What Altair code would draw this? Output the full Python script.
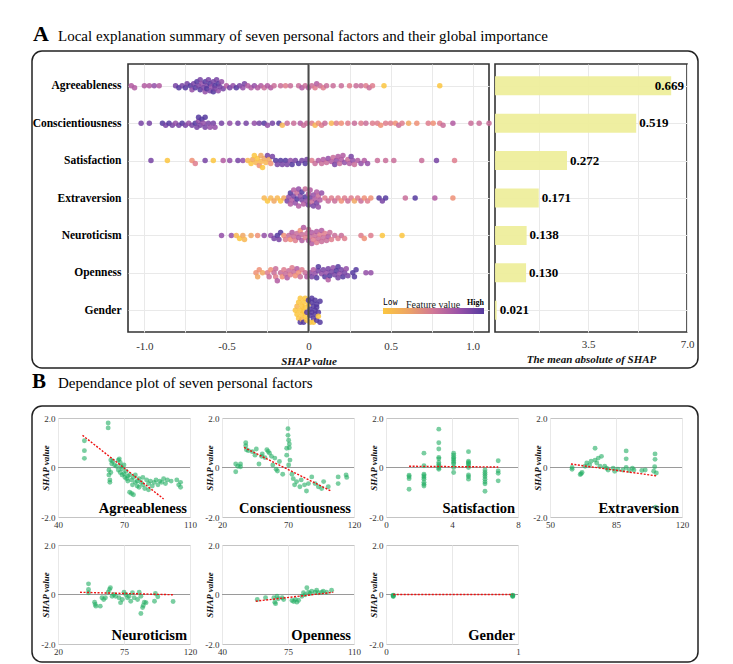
import altair as alt
import pandas as pd

FONT = "Liberation Serif"

# ---------------- data ----------------
features = ["Agreeableness", "Conscientiousness", "Satisfaction", "Extraversion",
            "Neuroticism", "Openness", "Gender"]
mean_abs_labels = ["0.669", "0.519", "0.272", "0.171", "0.138", "0.130", "0.021"]
bar_lengths = [6.44, 5.20, 2.75, 1.75, 1.32, 1.30, 0.26]

bee_ticks = [-1.0, -0.75, -0.5, -0.25, 0.0, 0.25, 0.5, 0.75, 1.0]
bar_ticks = [1.75, 3.5, 5.25, 7.0]
palette = ["#fbc640", "#eda464", "#d07797", "#9a52a8", "#553a9f"]

# (SHAP value, feature-value level 0=low .. 9=high)
agr = [(-1.08,6),(-1.06,6),(-1.00,6),(-0.97,6),(-0.94,7),(-0.91,6),
       (-0.81,8),(-0.79,9),(-0.77,8),(-0.75,9),(-0.74,8),(-0.72,9),(-0.71,7),(-0.70,8),(-0.69,9),
       (-0.68,9),(-0.67,8),(-0.66,9),(-0.66,8),(-0.65,7),(-0.64,8),(-0.63,9),(-0.63,7),(-0.62,8),
       (-0.62,9),(-0.61,8),(-0.60,9),(-0.60,8),(-0.59,7),(-0.58,8),(-0.58,9),(-0.57,9),(-0.57,8),
       (-0.56,8),(-0.55,9),(-0.55,7),(-0.54,8),(-0.53,7),(-0.52,8),(-0.50,6),(-0.48,8),(-0.46,7),
       (-0.44,9),(-0.42,8),(-0.40,7),(-0.39,8),
       (-0.37,6),(-0.35,6),(-0.33,7),(-0.31,6),(-0.29,6),(-0.27,5),(-0.25,6),(-0.23,6),(-0.21,5),
       (-0.17,5),(-0.14,4),(-0.11,5),(-0.06,5),(-0.04,6),(-0.02,5),(0.00,6),
       (0.02,5),(0.04,4),(0.05,6),(0.07,5),(0.09,4),(0.11,5),
       (0.15,5),(0.20,5),(0.25,4),(0.29,5),(0.32,5),(0.35,4),(0.37,5),(0.39,4),
       (0.46,0),(0.80,0)]
con = [(-1.02,8),(-0.97,8),(-0.89,9),(-0.87,8),(-0.85,9),(-0.83,8),(-0.81,7),(-0.79,8),(-0.77,9),
       (-0.75,8),(-0.73,7),(-0.71,8),(-0.69,9),(-0.68,8),(-0.67,7),(-0.67,9),(-0.66,8),(-0.65,9),
       (-0.64,7),(-0.63,8),(-0.63,9),(-0.61,8),(-0.60,7),(-0.58,8),(-0.57,7),
       (-0.53,8),(-0.48,7),(-0.43,8),(-0.38,8),(-0.33,7),(-0.30,8),(-0.27,9),(-0.25,7),(-0.22,8),
       (-0.18,9),(-0.16,1),(-0.13,5),(-0.09,5),(-0.05,6),(-0.03,5),(-0.01,5),
       (0.02,4),(0.04,1),(0.06,3),(0.08,4),(0.10,5),(0.14,1),(0.17,4),(0.20,3),(0.24,4),(0.28,5),
       (0.32,4),(0.35,5),(0.39,4),(0.42,4),(0.44,3),(0.47,4),(0.50,4),(0.53,3),(0.55,5),(0.57,4),
       (0.61,2),(0.66,3),(0.73,4),(0.76,3),(0.80,4),(0.82,5),(0.88,6),(0.99,5),(1.04,5),(1.10,5)]
sat = [(-0.96,8),(-0.86,0),(-0.71,3),(-0.69,4),(-0.63,8),(-0.58,0),(-0.52,6),(-0.48,7),(-0.43,8),
       (-0.40,7),(-0.37,1),(-0.35,0),(-0.34,2),(-0.33,0),(-0.32,1),(-0.31,0),(-0.30,3),(-0.29,1),
       (-0.29,2),(-0.28,0),(-0.27,2),(-0.26,1),(-0.25,8),(-0.24,2),(-0.23,3),
       (-0.22,8),(-0.20,9),(-0.19,8),(-0.17,9),(-0.16,8),(-0.14,9),(-0.13,8),(-0.11,7),(-0.10,9),
       (-0.08,8),(-0.06,9),(-0.04,8),(-0.02,9),(-0.01,8),
       (0.02,4),(0.04,5),(0.06,6),(0.08,5),(0.09,6),(0.11,5),(0.12,7),(0.14,6),(0.15,5),(0.16,8),
       (0.17,7),(0.18,6),(0.19,5),(0.20,6),(0.21,6),(0.22,7),(0.24,5),(0.25,6),(0.26,8),(0.27,7),
       (0.28,5),(0.30,6),(0.32,7),(0.34,6),(0.36,7),
       (0.42,5),(0.47,5),(0.52,5),(0.69,5),(0.78,8),(0.89,4)]
ext = [(-0.27,1),(-0.25,0),(-0.23,1),(-0.21,2),(-0.19,1),(-0.17,0),(-0.15,2),(-0.13,8),
       (-0.12,7),(-0.11,9),(-0.11,6),(-0.10,6),(-0.09,8),(-0.09,6),(-0.08,7),(-0.07,9),(-0.07,5),
       (-0.06,6),(-0.06,7),(-0.05,7),(-0.04,8),(-0.04,9),(-0.03,6),(-0.02,9),(-0.02,5),(-0.01,7),
       (0.00,6),(0.00,8),(0.01,8),(0.01,6),(0.02,5),(0.03,7),(0.03,8),(0.04,6),(0.05,8),(0.05,6),
       (0.06,5),(0.06,7),(0.07,6),(0.08,7),
       (0.10,4),(0.12,5),(0.14,4),(0.16,5),(0.18,4),(0.20,3),(0.22,4),(0.24,5),(0.26,4),(0.28,2),
       (0.30,4),(0.32,5),(0.34,3),(0.36,4),(0.38,3),(0.43,9),(0.45,8),(0.47,9),(0.59,5),(0.65,9),
       (0.77,6),(0.88,3)]
neu = [(-0.53,7),(-0.47,7),(-0.44,1),(-0.42,0),(-0.40,2),(-0.39,1),(-0.35,2),(-0.31,3),(-0.27,7),
       (-0.23,7),(-0.21,8),(-0.19,9),(-0.18,8),(-0.17,9),
       (-0.15,3),(-0.14,4),(-0.12,5),(-0.11,3),(-0.10,6),(-0.09,5),(-0.08,4),(-0.07,5),(-0.06,6),
       (-0.05,3),(-0.04,5),(-0.04,6),(-0.03,6),(-0.02,4),(-0.01,5),(0.00,6),(0.00,5),(0.01,5),
       (0.02,6),(0.02,6),(0.03,4),(0.04,5),(0.05,6),(0.05,4),(0.06,5),(0.07,4),(0.08,6),(0.08,5),
       (0.09,5),(0.10,4),(0.11,5),(0.12,6),(0.13,5),(0.14,4),
       (0.16,5),(0.18,4),(0.20,5),(0.22,4),(0.32,4),(0.34,3),(0.38,4),(0.45,0),(0.57,0)]
ope = [(-0.32,3),(-0.31,2),(-0.30,3),(-0.28,2),
       (-0.25,4),(-0.24,5),(-0.23,3),(-0.21,5),(-0.20,4),(-0.20,5),(-0.19,6),(-0.17,5),(-0.16,3),
       (-0.15,4),(-0.14,5),(-0.13,6),(-0.12,5),(-0.11,4),(-0.10,4),(-0.09,5),(-0.08,3),(-0.07,6),
       (-0.06,3),(-0.05,5),(-0.04,4),(-0.02,5),(-0.01,6),
       (0.01,7),(0.02,8),(0.03,6),(0.04,7),(0.05,9),(0.06,8),(0.06,9),(0.08,7),(0.09,8),(0.10,9),
       (0.11,7),(0.12,8),(0.12,6),(0.13,9),(0.14,8),(0.15,7),(0.16,8),(0.17,9),(0.18,8),(0.18,9),
       (0.19,7),(0.20,8),(0.21,9),(0.22,8),(0.23,7),(0.24,8),
       (0.27,9),(0.28,9),(0.29,9),(0.35,7),(0.38,7)]
gen = [(-0.08,0),(-0.07,0),(-0.07,1),(-0.06,0),(-0.06,0),(-0.05,0),(-0.05,9),(-0.05,0),(-0.04,0),
       (-0.04,0),(-0.04,1),(-0.03,0),(-0.03,0),(-0.03,9),(-0.02,0),(-0.02,0),(-0.02,0),(-0.01,0),
       (-0.01,9),(0.00,0),(0.00,9),(0.01,9),(0.01,9),(0.01,0),(0.02,9),(0.02,9),(0.02,9),(0.03,9),
       (0.03,9),(0.03,0),(0.04,9),(0.04,9),(0.04,9),(0.05,9),(0.05,9),(0.05,9),(0.06,9),(0.06,0),
       (0.07,9),(0.07,9)]
bee_rows = [agr, con, sat, ext, neu, ope, gen]

# Dependence plots: (feature value, SHAP value)
agr_dep = [(54,1.08),(54,0.68),(54,0.37),(66.6,1.8),(66.6,1.6),(67,-0.1),(67,-0.3),(67.5,-0.5),
           (67.5,-0.6),(68,0.3),(68,-0.2),(68.5,0.15),(69,0.25),(70,0.1),(71,0.05),(72,0.3),
           (72,-0.1),(72.5,0.35),(73,0.2),(73,-0.2),(73.5,0.05),(74,-0.05),(74,-0.3),(75,0.1),
           (75,-0.25),(75.5,-0.4),(76,-0.15),(76.5,-0.45),(77,-0.35),(77,-0.55),(78,-0.3),(78,-1.0),
           (79,-0.5),(79,-1.05),(79.5,-0.7),(80,-0.4),(80,-1.1),(81,-0.6),(81,-0.3),(82,-0.55),
           (82,-0.75),(83,-0.45),(83,-0.8),(84,-0.6),(85,-0.7),(85,-0.4),(86,-0.85),(87,-0.5),
           (88,-0.65),(88,-0.9),(89,-0.55),(90,-0.75),(91,-0.6),(92,-0.5),(93,-0.7),(94,-0.55),
           (95,-0.6),(96,-0.45),(97,-0.65),(98,-0.5),(100,-0.55),(103,-0.5),(104,-0.7),(105,-0.8),
           (105,-0.6)]
con_dep = [(30.4,0.14),(30.4,-0.17),(32,0.05),(34,0.14),(34,0.03),(38,1.0),(38,0.88),(38.5,0.72),
           (40,0.68),(43,0.64),(45,0.5),(46,0.75),(48,0.14),(50,0.45),(50.5,0.55),(52.5,0.4),
           (54,0.72),(55,0.65),(56,0.58),(57.5,0.45),(58.5,0.1),(60,0.38),(61,-0.07),(62,-0.14),
           (63.5,0.24),(66,-0.27),(69,0.5),(69,0.78),(70,1.57),(70,1.3),(70.5,1.1),(71,0.95),
           (71,0.8),(70.5,0.1),(71.5,0.3),(73,-0.27),(74,-0.45),(75,-0.7),(76.5,-0.57),(79,-0.78),
           (80,-0.5),(82.5,-0.7),(84,-0.95),(85.5,-0.65),(88,-0.38),(90.5,-0.65),(93,-0.78),
           (95.5,-0.85),(97,-0.57),(100.5,-0.78),(108,-0.65),(108,-0.38),(114,-0.3),(114.5,-0.4)]
sat_levels = [1.4, 2.3, 3.2, 4.1, 5.0, 6.0, 6.8]
sat_shap = [[-0.31,-0.37,-0.45,-0.88],
            [0.58,0.07,-0.27,-0.33,-0.4,-0.47,-0.6,-0.68,-0.75],
            [1.55,1.0,0.75,0.41,0.35,0.2,0.12,0.05,-0.02,-0.07],
            [0.58,0.5,0.41,0.35,0.28,0.2,0.14,0.0,-0.2],
            [0.64,0.25,0.2,0.15,0.1,0.0,-0.3,-0.37,-0.47],
            [-0.1,-0.2,-0.28,-0.37,-0.47,-0.58,-0.66,-0.96],
            [0.27,-0.14,-0.23,-0.54]]
sat_dep = [(lv, s) for lv, col in zip(sat_levels, sat_shap) for s in col]
ext_dep = [(61.7,0.0),(61.7,-0.07),(66,-0.28),(66.5,-0.25),(67,-0.2),(68.6,0.05),(69.5,0.18),
           (71,0.1),(71.8,0.25),(73.9,0.78),(73.9,0.3),(74.8,0.18),(75.6,0.38),(76.5,0.05),
           (77.3,0.45),(79,0.05),(80,-0.03),(80.8,-0.1),(83.5,-0.03),(84.3,-0.15),(86,-0.07),
           (88.7,-0.1),(90.4,0.67),(90.4,0.35),(90.4,0.0),(92,-0.12),(93.7,-0.03),(94.5,-0.1),
           (98.7,-0.12),(100.5,-0.1),(105,-0.15),(105.5,0.03),(105.7,0.55),(105.7,0.33),
           (106.4,-0.22),(106,-1.6)]
neu_dep = [(43.1,0.43),(43.1,0.2),(43.1,0.07),(47.7,-0.31),(48.2,-0.4),(48.7,-0.47),(52,-0.47),
           (53.3,-0.13),(54.6,-0.2),(55.9,-0.13),(58,0.09),(59,0.2),(59.7,0.27),(61,-0.07),(62.3,0.0),
           (63.6,-0.07),(66.2,-0.13),(67.4,-0.33),(68.7,-0.2),(70,0.09),(71.3,0.0),(72.6,-0.13),
           (73.8,-0.07),(75.1,-0.27),(76.4,0.07),(77.7,-0.13),(80.3,-0.2),(81.5,0.09),(82.8,-0.07),
           (84.1,-0.53),(84.6,-0.44),(85.4,-0.31),(82.8,-0.77),(86.7,-0.33),(93.1,-0.27),(93.8,0.04),
           (95.6,-0.09),(107.2,-0.28)]
ope_dep = [(58.7,-0.2),(63.1,-0.13),(67.5,-0.13),(68,-0.31),(68.4,-0.37),(69.2,-0.07),(69.8,-0.17),
           (71.9,-0.13),(72.7,-0.2),(77.1,-0.24),(78,-0.28),(78.9,-0.2),(79.7,-0.31),(80.6,-0.23),
           (82.4,-0.07),(83.2,0.07),(84.1,-0.01),(85,0.27),(85.9,0.09),(86.7,0.04),(87.6,0.13),
           (89.4,0.09),(90.2,0.17),(91.1,0.07),(92.9,0.09),(93.7,0.13),(95.5,0.09),(98.1,0.17)]
gen_dep = [(0.055,-0.03),(0.055,-0.06),(0.055,-0.08),(0.055,-0.04),
           (0.96,-0.03),(0.96,-0.06),(0.96,-0.08),(0.96,-0.04)]

dep_specs = [
    ("Agreeableness", agr_dep, [40, 110], [40, 75, 110], ["40", "70", "110"], [(53, 1.30), (96, -1.27)]),
    ("Conscientiousness", con_dep, [20, 120], [20, 70, 120], ["20", "70", "120"], [(36.7, 0.81), (102.6, -0.95)]),
    ("Satisfaction", sat_dep, [0, 8], [0, 4, 8], ["0", "4", "8"], [(1.4, 0.05), (6.8, 0.02)]),
    ("Extraversion", ext_dep, [50, 120], [50, 85, 120], ["50", "85", "120"], [(61.1, 0.14), (106.6, -0.34)]),
    ("Neuroticism", neu_dep, [20, 120], [20, 70, 120], ["20", "75", "120"], [(36.7, 0.09), (107, -0.01)]),
    ("Openness", ope_dep, [40, 110], [40, 75, 110], ["40", "75", "110"], [(57.9, -0.27), (99, 0.09)]),
    ("Gender", gen_dep, [0, 1], [0, 0.5, 1], ["0", "", "1"], [(0.055, 0.0), (0.96, 0.0)]),
]

# ---------------- layout helpers ----------------
def swarm(vals, d, cap, px_per_unit=164.0):
    xs = [v * px_per_unit for v in vals]
    order = sorted(range(len(xs)), key=lambda i: xs[i])
    cands = [0.0]
    k = 1.0
    while k <= cap:
        cands += [k, -k]
        k += 1.0
    offs = [0.0] * len(xs)
    placed = []
    for i in order:
        best, best_gap = 0.0, -1.0
        for c in cands:
            gaps = [((xs[i] - xs[j]) ** 2 + (c - offs[j]) ** 2) ** 0.5
                    for j in placed if abs(xs[i] - xs[j]) < d]
            gap = min(gaps) if gaps else 99.0
            if gap >= d:
                best = c
                break
            if gap > best_gap:
                best_gap, best = gap, c
        offs[i] = best
        placed.append(i)
    return offs

swarm_params = {"Agreeableness": (3.6, 6), "Conscientiousness": (3.6, 6), "Satisfaction": (4.0, 7),
                "Extraversion": (4.2, 9), "Neuroticism": (4.0, 8), "Openness": (4.0, 8),
                "Gender": (4.0, 12)}
rows = []
for feat, pts in zip(features, bee_rows):
    vals = [p[0] for p in pts]
    dd, cap = swarm_params[feat]
    offs = swarm(vals, dd, cap)
    for (v, lv), o in zip(pts, offs):
        rows.append({"feature": feat, "shap": v, "fv": lv / 9.0, "off": o})
bee_df = pd.DataFrame(rows)
one = pd.DataFrame({"a": [0]})

BEE_W, H = 361, 268
BAR_W = 192

yscale = alt.Scale(type="point", padding=0.58)

bee_label_expr = ("abs(datum.value*2 - round(datum.value*2)) > 0.01 ? '' : "
                  "datum.value == 0 ? '0' : replace(format(datum.value, '.1f'), '\u2212', '-')")

def txt(text, x, y, size, weight="normal", align="left", color="black", font=FONT, style="normal"):
    return alt.Chart(one).mark_text(text=text, align=align, baseline="alphabetic", fontSize=size,
                                    fontWeight=weight, color=color, font=font,
                                    fontStyle=style).encode(x=alt.value(x), y=alt.value(y))

points = alt.Chart(bee_df).mark_circle(size=30, opacity=0.85).encode(
    x=alt.X("shap:Q", scale=alt.Scale(domain=[-1.1, 1.1], nice=False, zero=False),
            axis=alt.Axis(values=bee_ticks, labelExpr=bee_label_expr, grid=True,
                          gridColor="#e9e9e9", ticks=False, domain=False, labelFlush=False,
                          labelPadding=8, labelFontSize=11, labelColor="#333", labelFont=FONT,
                          title="SHAP value", titleFontStyle="italic", titleFontWeight="bold",
                          titleFontSize=11, titlePadding=4, titleColor="#111", titleFont=FONT)),
    y=alt.Y("feature:N", sort=features, scale=yscale,
            axis=alt.Axis(title=None, labelFontWeight="bold", labelFontSize=11.5, labelFont=FONT,
                          labelColor="black", ticks=False, domain=False, grid=True,
                          gridColor="#e9e9e9", labelPadding=7)),
    yOffset=alt.YOffset("off:Q", scale=None),
    color=alt.Color("fv:Q", scale=alt.Scale(domain=[0, 0.25, 0.5, 0.75, 1], range=palette),
                    legend=None),
)
zero_rule = alt.Chart(one).mark_rule(color="#4a4a4a", strokeWidth=2).encode(x=alt.datum(0))

box_a = alt.Chart(one).mark_rect(fill="transparent", stroke="#222", strokeWidth=1.5,
                                 cornerRadius=10).encode(
    x=alt.value(-96), x2=alt.value(570), y=alt.value(-13), y2=alt.value(304))
title_a1 = txt("A", -95, -23, 22, weight="bold")
title_a2 = txt("Local explanation summary of seven personal factors and their global importance",
               -70, -23, 15)

grad = alt.Gradient(gradient="linear", x1=0, x2=1, y1=0, y2=0,
                    stops=[alt.GradientStop(offset=i / 4, color=c) for i, c in enumerate(palette)])
leg_bar = alt.Chart(one).mark_rect(fill=grad).encode(
    x=alt.value(255), x2=alt.value(356), y=alt.value(244), y2=alt.value(250))
leg_low = txt("Low", 255, 241, 8, font="DejaVu Sans Mono")
leg_mid = txt("Feature value", 305, 244, 10, align="center", color="#222")
leg_high = txt("High", 356, 241, 8, weight="bold", align="right")

bee = alt.layer(box_a, title_a1, title_a2, points, zero_rule, leg_bar, leg_low, leg_mid,
                leg_high).properties(
    width=BEE_W, height=H, view=alt.ViewBackground(stroke="#333", strokeWidth=1.6))

bar_df = pd.DataFrame({"feature": features, "len": bar_lengths, "lab": mean_abs_labels})
bar_y = alt.Y("feature:N", sort=features, scale=yscale,
              axis=alt.Axis(labels=False, ticks=False, domain=False, title=None, grid=True,
                            gridColor="#e9e9e9"))
bar_x_scale = alt.Scale(domain=[0.2, 7.0], nice=False, zero=False)
bars = alt.Chart(bar_df).mark_bar(size=19, color="#eeee9c", opacity=0.95, clip=True).encode(
    x=alt.X("len:Q", scale=bar_x_scale,
            axis=alt.Axis(values=bar_ticks,
                          labelExpr="datum.value == 3.5 ? '3.5' : datum.value == 7 ? '7.0' : ''",
                          grid=True, gridColor="#e9e9e9", ticks=False, domain=False,
                          labelFlush=False, labelPadding=6, labelFontSize=11, labelColor="#333",
                          labelFont=FONT, title="The mean absolute of SHAP",
                          titleFontStyle="italic", titleFont=FONT,
                          titleFontWeight="bold", titleFontSize=11, titlePadding=4,
                          titleColor="#111")),
    y=bar_y,
)
bar_text = alt.Chart(bar_df).transform_calculate(lx="min(datum.len, 5.75)").mark_text(
    align="left", baseline="middle", dx=3, fontSize=13, fontWeight="bold", color="black",
    font=FONT).encode(x=alt.X("lx:Q", scale=bar_x_scale), y=bar_y, text="lab:N")
bar_chart = alt.layer(bars, bar_text).properties(
    width=BAR_W, height=H, view=alt.ViewBackground(stroke="#333", strokeWidth=1.6))

spacer = alt.Chart(one).mark_point(opacity=0).encode(
    x=alt.value(0), y=alt.value(0)).properties(
    width=64, height=H, view=alt.ViewBackground(stroke="transparent"))

row_a = alt.hconcat(spacer, bee, bar_chart, spacing=6, bounds="flush")

# ---------------- dependence panels ----------------
PW, PH = 132, 99
panels = []
for idx, (name, pts, dom, ticks, tlabels, trend) in enumerate(dep_specs):
    df = pd.DataFrame(pts, columns=["fx", "sv"])
    expr = "".join(f"datum.value == {t} ? '{l}' : " for t, l in zip(ticks, tlabels)) + "''"
    xs = alt.Scale(domain=dom, nice=False, zero=False)
    ys = alt.Scale(domain=[-2, 2], nice=False)
    xax = alt.Axis(values=ticks, labelExpr=expr, title=None, grid=True, gridColor="#e8e8e8",
                   ticks=False, domain=False, labelFontSize=9, labelPadding=3, labelFlush=False,
                   labelColor="#333", labelFont=FONT)
    yax = alt.Axis(values=[-2, 0, 2],
                   labelExpr="datum.value == 0 ? '0' : datum.value > 0 ? '2.0' : '-2.0'",
                   title="SHAP value", titleFontStyle="italic", titleFontWeight="bold",
                   titleFontSize=9, titleX=-8, titleY=PH / 2, titleAngle=270, titleFont=FONT,
                   titleBaseline="bottom", titleAlign="center", titleColor="#111",
                   grid=False, ticks=False, domain=False, labelFontSize=9, labelPadding=3,
                   labelColor="#333", labelFont=FONT)
    pts_layer = alt.Chart(df).mark_circle(size=24, color="#22ad62", opacity=0.6).encode(
        x=alt.X("fx:Q", scale=xs, axis=xax), y=alt.Y("sv:Q", scale=ys, axis=yax))
    zero = alt.Chart(one).mark_rule(color="#9a9a9a", strokeWidth=1).encode(y=alt.datum(0))
    tdf = pd.DataFrame({"fx": [trend[0][0], trend[1][0]], "sv": [trend[0][1], trend[1][1]]})
    tline = alt.Chart(tdf).mark_line(color="#ee1111", strokeWidth=1.4,
                                     strokeDash=[2, 1.5]).encode(x="fx:Q", y="sv:Q")
    label = txt(name, PW - 3, PH - 4, 14.5, weight="bold", align="right")
    layers = [zero, pts_layer, tline, label]
    if idx == 0:
        box_b = alt.Chart(one).mark_rect(fill="transparent", stroke="#222", strokeWidth=1.5,
                                         cornerRadius=10).encode(
            x=alt.value(-26), x2=alt.value(640), y=alt.value(-12), y2=alt.value(244))
        tb1 = txt("B", -26, -30, 21, weight="bold")
        tb2 = txt("Dependance plot of seven personal factors", 0, -30, 15)
        layers = [box_b, tb1, tb2] + layers
    panels.append(alt.layer(*layers).properties(
        width=PW, height=PH, view=alt.ViewBackground(stroke="#c4c4c4", strokeWidth=1)))

part_b = alt.concat(*panels, columns=4, spacing={"row": 28, "column": 32}, bounds="flush")

chart = alt.vconcat(row_a, part_b, spacing=0).properties(
    padding={"left": 22, "top": 14, "right": 5, "bottom": 5}
).configure(font=FONT).configure_view(stroke="transparent").configure_axis(
    labelFont=FONT, titleFont=FONT).configure_text(font=FONT)

chart.save("out.html", embed_options={"renderer": "svg", "actions": False})
